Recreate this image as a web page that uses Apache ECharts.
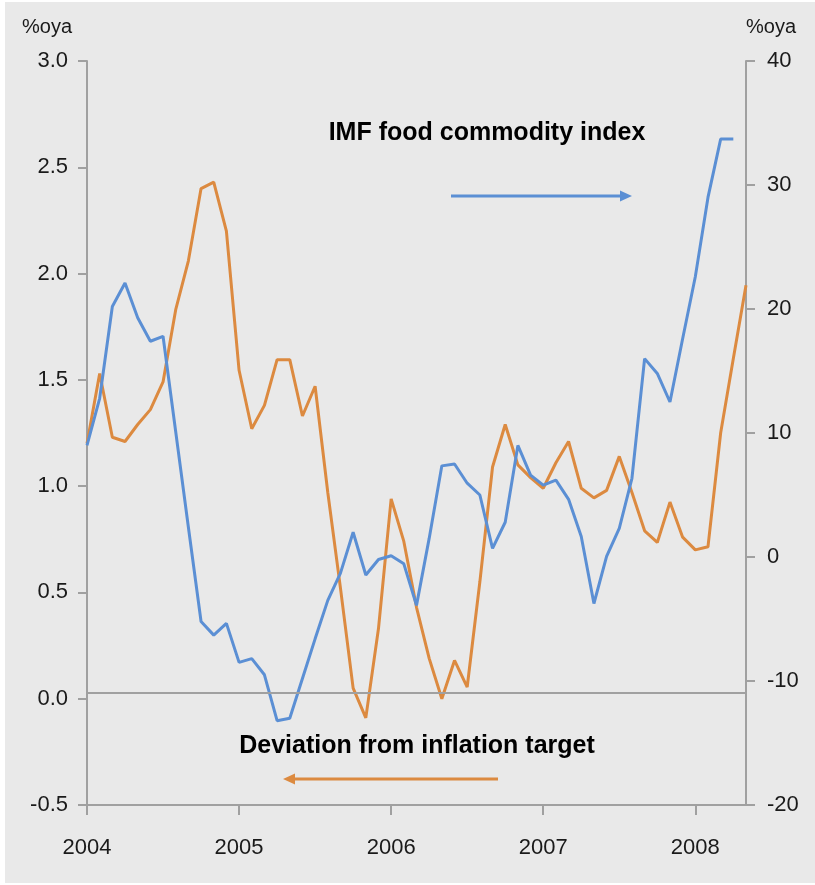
<!DOCTYPE html>
<html>
<head>
<meta charset="utf-8">
<script src="https://cdn.jsdelivr.net/npm/echarts@6/dist/echarts.min.js"></script>
<style>
html,body{margin:0;padding:0;background:#ffffff;}
#bg{position:absolute;left:5px;top:2px;width:810px;height:881px;background:#e9e9e9;}
#chart{position:absolute;left:0;top:0;width:815px;height:885px;}
</style>
</head>
<body>
<div id="bg"></div>
<div id="chart"></div>
<script>
const months = [
 '2004-01','2004-02','2004-03','2004-04','2004-05','2004-06','2004-07','2004-08','2004-09','2004-10','2004-11','2004-12',
 '2005-01','2005-02','2005-03','2005-04','2005-05','2005-06','2005-07','2005-08','2005-09','2005-10','2005-11','2005-12',
 '2006-01','2006-02','2006-03','2006-04','2006-05','2006-06','2006-07','2006-08','2006-09','2006-10','2006-11','2006-12',
 '2007-01','2007-02','2007-03','2007-04','2007-05','2007-06','2007-07','2007-08','2007-09','2007-10','2007-11','2007-12',
 '2008-01','2008-02','2008-03','2008-04','2008-05'
];
// Deviation from inflation target (left axis, %oya)
const deviation = [
 1.20,1.53,1.23,1.21,1.29,1.36,1.49,1.83,2.06,2.40,2.43,2.20,
 1.545,1.27,1.38,1.595,1.595,1.33,1.47,0.97,0.52,0.05,-0.09,0.33,
 0.94,0.74,0.43,0.19,0.00,0.18,0.055,0.55,1.09,1.29,1.10,1.04,
 0.99,1.11,1.21,0.99,0.945,0.98,1.14,0.97,0.79,0.735,0.925,0.76,
 0.70,0.715,1.25,1.60,1.945
];
// IMF food commodity index (right axis, %oya)
const imfFood = [
 9.0,12.8,20.2,22.1,19.3,17.4,17.8,10.1,2.4,-5.2,-6.3,-5.35,
 -8.5,-8.2,-9.5,-13.2,-13.0,-9.8,-6.6,-3.5,-1.3,2.0,-1.45,-0.2,
 0.1,-0.55,-3.9,1.5,7.35,7.5,5.95,5.0,0.7,2.8,9.0,6.6,
 5.8,6.2,4.65,1.65,-3.75,0.05,2.3,6.35,16.0,14.8,12.5,17.6,
 22.6,29.0,33.7,33.7,null
];
const leftAxisRange = [-0.5, 3.0, 0.5];
const rightAxisRange = [-20, 40, 10];
const refLineValue = 0.03;
const yearLabels = ['2004','2005','2006','2007','2008'];
const unitLabel = '%oya';

const blue = '#5b8fd4';
const orange = '#dc8a40';
const axisGrey = '#a0a0a0';
const txt = '#1a1a1a';
const sans = "'Liberation Sans', Arial, sans-serif";

const chart = echarts.init(document.getElementById('chart'), null, {renderer:'canvas'});
chart.setOption({
  backgroundColor: 'transparent',
  animation: false,
  grid: {left: 87, right: 69, top: 61, bottom: 80, containLabel: false},
  xAxis: {
    type: 'category',
    data: months,
    boundaryGap: false,
    axisLine: {show: true, onZero: false, lineStyle: {color: axisGrey, width: 2}},
    axisTick: {show: true, length: 10, interval: (i) => i % 12 === 0, lineStyle: {color: axisGrey, width: 2}},
    axisLabel: {
      interval: (i) => i % 12 === 0,
      formatter: (v) => { const y = v.slice(0,4); return yearLabels.includes(y) ? y : ''; },
      color: txt, fontFamily: sans, fontSize: 22, margin: 32
    },
    splitLine: {show: false}
  },
  yAxis: [
    {
      type: 'value', position: 'left',
      min: leftAxisRange[0], max: leftAxisRange[1], interval: leftAxisRange[2],
      axisLine: {show: true, lineStyle: {color: axisGrey, width: 2}},
      axisTick: {show: true, length: 9, lineStyle: {color: axisGrey, width: 2}},
      axisLabel: {color: txt, fontFamily: sans, fontSize: 22, margin: 19, formatter: (v) => v.toFixed(1)},
      splitLine: {show: false}
    },
    {
      type: 'value', position: 'right',
      min: rightAxisRange[0], max: rightAxisRange[1], interval: rightAxisRange[2],
      axisLine: {show: true, lineStyle: {color: axisGrey, width: 2}},
      axisTick: {show: true, length: 9, lineStyle: {color: axisGrey, width: 2}},
      axisLabel: {color: txt, fontFamily: sans, fontSize: 22, margin: 21},
      splitLine: {show: false}
    }
  ],
  series: [
    {
      name: 'Deviation from inflation target', type: 'line', yAxisIndex: 0,
      data: deviation, symbol: 'none', lineStyle: {color: orange, width: 3}, itemStyle: {color: orange}, z: 3,
      markLine: {
        silent: true, symbol: ['none','none'], label: {show: false},
        lineStyle: {color: axisGrey, width: 2, type: 'solid'},
        data: [{yAxis: refLineValue}]
      }
    },
    {
      name: 'IMF food commodity index', type: 'line', yAxisIndex: 1,
      data: imfFood, symbol: 'none', lineStyle: {color: blue, width: 3}, itemStyle: {color: blue}, z: 4
    }
  ],
  graphic: [
    {type: 'text', x: 22, y: 27, style: {text: unitLabel, fill: txt, font: "20px " + sans, textAlign: 'left', textVerticalAlign: 'middle'}},
    {type: 'text', x: 746, y: 27, style: {text: unitLabel, fill: txt, font: "20px " + sans, textAlign: 'left', textVerticalAlign: 'middle'}},
    {type: 'text', x: 487, y: 133, style: {text: 'IMF food commodity index', fill: '#000', font: "bold 25px " + sans, textAlign: 'center', textVerticalAlign: 'middle'}},
    {type: 'line', shape: {x1: 451, y1: 196, x2: 622, y2: 196}, style: {stroke: blue, lineWidth: 3}},
    {type: 'polygon', shape: {points: [[632,196],[620,190.5],[620,201.5]]}, style: {fill: blue}},
    {type: 'text', x: 417, y: 746, style: {text: 'Deviation from inflation target', fill: '#000', font: "bold 25px " + sans, textAlign: 'center', textVerticalAlign: 'middle'}},
    {type: 'line', shape: {x1: 292, y1: 779, x2: 498, y2: 779}, style: {stroke: orange, lineWidth: 3}},
    {type: 'polygon', shape: {points: [[283,779],[295,773.5],[295,784.5]]}, style: {fill: orange}}
  ]
});
</script>
</body>
</html>
